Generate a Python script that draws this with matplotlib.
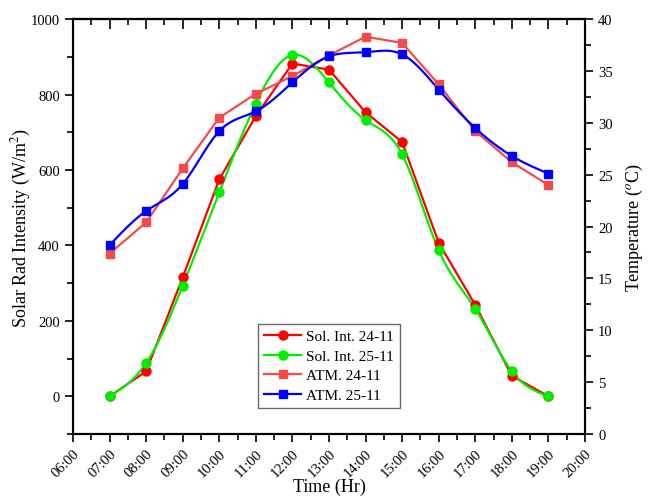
import numpy as np
import matplotlib
matplotlib.use("Agg")
import matplotlib.pyplot as plt
from matplotlib.ticker import MultipleLocator
from matplotlib.lines import Line2D

plt.rcParams['font.family'] = ['Liberation Serif', 'DejaVu Serif']
plt.rcParams['mathtext.fontset'] = 'stix'

# ---- data ----
hours = [7, 8, 9, 10, 11, 12, 13, 14, 15, 16, 17, 18, 19]
tick_hours = list(range(6, 21))
tick_labels = [f"{h:02d}:00" for h in tick_hours]

sol_24 = [0, 66, 315, 575, 743, 882, 866, 753, 674, 407, 242, 54, 0]
sol_25 = [0, 88, 293, 541, 776, 905, 832, 732, 641, 387, 232, 66, 0]
atm_24 = [17.4, 20.4, 25.6, 30.5, 32.8, 34.5, 36.5, 38.3, 37.7, 33.7, 29.2, 26.2, 24.0]
atm_25 = [18.2, 21.5, 24.1, 29.2, 31.1, 33.9, 36.4, 36.8, 36.6, 33.2, 29.5, 26.8, 25.1]


def natural_spline(x, y, n=400):
    x = np.asarray(x, float)
    y = np.asarray(y, float)
    m = len(x)
    h = np.diff(x)
    A = np.zeros((m, m))
    b = np.zeros(m)
    A[0, 0] = 1
    A[-1, -1] = 1
    for i in range(1, m - 1):
        A[i, i - 1] = h[i - 1]
        A[i, i] = 2 * (h[i - 1] + h[i])
        A[i, i + 1] = h[i]
        b[i] = 3 * ((y[i + 1] - y[i]) / h[i] - (y[i] - y[i - 1]) / h[i - 1])
    c = np.linalg.solve(A, b)
    xs = np.linspace(x[0], x[-1], n)
    idx = np.clip(np.searchsorted(x, xs) - 1, 0, m - 2)
    bb = (y[1:] - y[:-1]) / h - h * (2 * c[:-1] + c[1:]) / 3
    d = (c[1:] - c[:-1]) / (3 * h)
    dx = xs - x[idx]
    ys = y[idx] + bb[idx] * dx + c[idx] * dx ** 2 + d[idx] * dx ** 3
    return xs, ys


c_red = '#FF0000'
c_green = '#00EE00'
c_lred = '#F54A4A'
c_blue = '#0000FF'

fig = plt.figure(figsize=(6.5, 5.02), dpi=100)
ax = fig.add_axes([0.1123, 0.1335, 0.7877, 0.8265])
ax2 = ax.twinx()

lw = 1.6
ms_c = 6.5
ms_s = 6.2

# Solar (left axis)
ax.plot(hours, sol_24, color=c_red, lw=lw, zorder=3)
ax.plot(hours, sol_24, ls='none', marker='o', color=c_red, ms=ms_c, zorder=4)
xs, ys = natural_spline(hours, sol_25)
ax.plot(xs, ys, color=c_green, lw=lw, zorder=3)
ax.plot(hours, sol_25, ls='none', marker='o', color=c_green, ms=ms_c, zorder=4)

# Temperature (right axis)
ax2.plot(hours, atm_24, color=c_lred, lw=lw, zorder=3)
ax2.plot(hours, atm_24, ls='none', marker='s', color=c_lred, ms=ms_s, zorder=4)
xs, ys = natural_spline(hours, atm_25)
ax2.plot(xs, ys, color=c_blue, lw=lw, zorder=3)
ax2.plot(hours, atm_25, ls='none', marker='s', color=c_blue, ms=ms_s, zorder=4)

ax.set_xlim(6, 20)
ax.set_ylim(-100, 1000)
ax2.set_ylim(0, 40)

ax.set_xticks(tick_hours)
ax.set_xticklabels(tick_labels, rotation=45, ha='right', rotation_mode='anchor', fontsize=10.5)
ax.xaxis.set_minor_locator(MultipleLocator(0.5))
ax.set_yticks([0, 200, 400, 600, 800, 1000])
ax.yaxis.set_minor_locator(MultipleLocator(100))
ax2.set_yticks([0, 5, 10, 15, 20, 25, 30, 35, 40])
ax2.yaxis.set_minor_locator(MultipleLocator(2.5))

ax.tick_params(axis='x', which='both', direction='out', top=False, pad=3)
ax.tick_params(axis='x', which='major', length=6, width=1.2)
ax.tick_params(axis='x', which='minor', length=4, width=1.2)
ax.tick_params(axis='y', which='major', direction='out', length=6, width=1.2, labelsize=10.5, right=False)
ax.tick_params(axis='y', which='minor', direction='out', length=4, width=1.2, right=False)
ax2.tick_params(axis='y', which='major', direction='out', length=6, width=1.2, labelsize=10.5)
ax2.tick_params(axis='y', which='minor', direction='out', length=4, width=1.2)

for a in (ax, ax2):
    for s in a.spines.values():
        s.set_linewidth(1.5)

# top ticks pointing inward, no labels
top = ax.secondary_xaxis('top')
top.set_xticks(tick_hours)
top.set_xticklabels([])
top.xaxis.set_minor_locator(MultipleLocator(0.5))
top.tick_params(axis='x', which='major', direction='in', length=7, width=1.2)
top.tick_params(axis='x', which='minor', direction='in', length=4, width=1.2)
top.spines['top'].set_linewidth(1.5)

ax.set_xlabel('Time (Hr)', fontsize=13, labelpad=-1)
ax.set_ylabel('Solar Rad Intensity (W/m$^2$)', fontsize=13, labelpad=-2)
ax2.set_ylabel('Temperature ($^o$C)', fontsize=13, labelpad=8)

handles = [
    Line2D([], [], color=c_red, lw=lw, marker='o', ms=ms_c),
    Line2D([], [], color=c_green, lw=lw, marker='o', ms=ms_c),
    Line2D([], [], color=c_lred, lw=lw, marker='s', ms=ms_s),
    Line2D([], [], color=c_blue, lw=lw, marker='s', ms=ms_s),
]
labels = ['Sol. Int. 24-11', 'Sol. Int. 25-11', 'ATM. 24-11', 'ATM. 25-11']
leg = ax.legend(handles, labels, loc='upper left', bbox_to_anchor=(0.362, 0.266),
                fontsize=11, frameon=True, fancybox=False, edgecolor='#444444',
                handlelength=2.4, handletextpad=0.3, labelspacing=0.38,
                borderpad=0.4, borderaxespad=0)
leg.get_frame().set_linewidth(1.0)
leg.set_zorder(10)

fig.savefig('out.png', dpi=100)
